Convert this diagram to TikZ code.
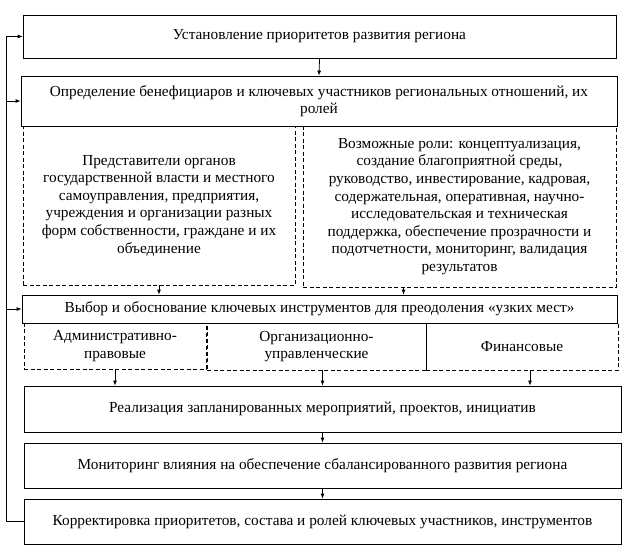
\documentclass[tikz,border=0pt]{standalone}
\usepackage{fontspec}
\setmainfont{Liberation Serif}
\usetikzlibrary{arrows.meta}
\begin{document}
\begin{tikzpicture}[x=1pt, y=-1pt, >={Latex[length=5pt,width=4pt]},
		stage/.style={draw, line width=0.8pt, rectangle, align=center, inner sep=1pt, font=\fontsize{15.3}{17.6}\selectfont},
		part/.style={stage, dash pattern=on 4pt off 2.5pt}]
		\useasboundingbox (0,0) rectangle (628,551);

		\node[stage, minimum width=593pt, minimum height=43pt] (setprio) at (319.5,36.5) {Установление приоритетов развития региона};
		\node[stage, minimum width=596pt, minimum height=50pt] (benef) at (319,101) {Определение бенефициаров и ключевых участников региональных отношений, их\\ролей};
		\node[part, minimum width=272pt, minimum height=159pt] (actors) at (159,205.5) {Представители органов\\государственной власти и местного\\самоуправления, предприятия,\\учреждения и организации разных\\форм собственности, граждане и их\\объединение};
		\node[part, minimum width=313pt, minimum height=161pt] (roles) at (459.5,206.5) {Возможные роли: концептуализация,\\создание благоприятной среды,\\руководство, инвестирование, кадровая,\\содержательная, оперативная, научно-\\исследовательская и техническая\\поддержка, обеспечение прозрачности и\\подотчетности, мониторинг, валидация\\результатов};
		\node[stage, minimum width=595pt, minimum height=28pt] (choice) at (319.5,309) {Выбор и обоснование ключевых инструментов для преодоления «узких мест»};
		\node[part, minimum width=182pt, minimum height=46pt] (admin) at (115,346) {Административно-\\правовые};
		\node[part, minimum width=219pt, minimum height=47pt] (manage) at (316.5,346.5) {Организационно-\\управленческие};
		\node[part, minimum width=192pt, minimum height=47pt] (finance) at (522,346.5) {Финансовые};
		\node[stage, minimum width=597pt, minimum height=46pt] (implement) at (322.5,409) {Реализация запланированных мероприятий, проектов, инициатив};
		\node[stage, minimum width=597pt, minimum height=45pt] (monitor) at (322.5,465.5) {Мониторинг влияния на обеспечение сбалансированного развития региона};
		\node[stage, minimum width=597pt, minimum height=45pt] (correct) at (322.5,521.5) {Корректировка приоритетов, состава и ролей ключевых участников, инструментов};

		% main flow
		\draw[->, line width=0.8pt] (setprio.south) -- (benef.north);
		\draw[->, line width=0.8pt] (actors.south) -- (actors.south |- choice.north);
		\draw[->, line width=0.8pt] ([xshift=-56pt]roles.south) -- ([xshift=-56pt]roles.south |- choice.north);
		\draw[->, line width=0.8pt] (admin.south) -- (admin.south |- implement.north);
		\draw[->, line width=0.8pt] ([xshift=6pt]manage.south) -- ([xshift=6pt]manage.south |- implement.north);
		\draw[->, line width=0.8pt] ([xshift=8pt]finance.south) -- ([xshift=8pt]finance.south |- implement.north);
		\draw[->, line width=0.8pt] (implement.south) -- (monitor.north);
		\draw[->, line width=0.8pt] (monitor.south) -- (correct.north);

		% feedback
		\draw[line width=0.8pt] (correct.west) -- ++(-17,0) coordinate (fb) -- (fb |- setprio.west);
		\draw[->, line width=0.8pt] (fb |- setprio.west) -- (setprio.west);
		\draw[->, line width=0.8pt] (fb |- benef.west) -- (benef.west);
		\draw[->, line width=0.8pt] (fb |- choice.west) -- (choice.west);
	\end{tikzpicture}
\end{document}
